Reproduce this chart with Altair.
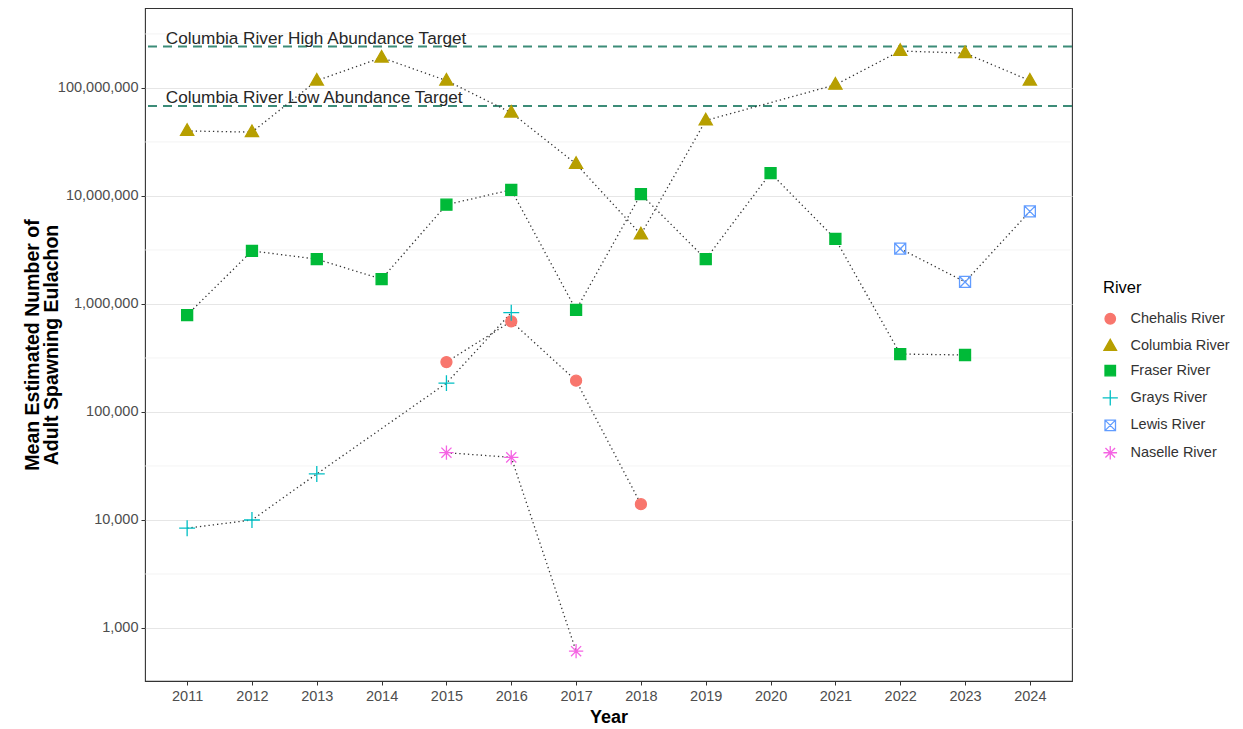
import altair as alt
import pandas as pd

# ---------------- data ----------------
years = list(range(2011, 2025))
rivers = ["Chehalis River", "Columbia River", "Fraser River",
          "Grays River", "Lewis River", "Naselle River"]

chehalis = [None, None, None, None, 2.9e5, 6.9e5, 1.95e5, 1.4e4,
            None, None, None, None, None, None]
columbia = [4.0e7, 3.9e7, 1.17e8, 1.91e8, 1.17e8, 5.9e7, 1.98e7, 4.4e6,
            5.0e7, None, 1.07e8, 2.2e8, 2.1e8, 1.17e8]
fraser = [7.9e5, 3.1e6, 2.6e6, 1.7e6, 8.3e6, 1.14e7, 8.8e5, 1.04e7,
          2.6e6, 1.63e7, 4.0e6, 3.44e5, 3.37e5, None]
grays = [8.4e3, 1.0e4, 2.67e4, None, 1.85e5, 8.3e5, None, None,
         None, None, None, None, None, None]
lewis = [None, None, None, None, None, None, None, None,
         None, None, None, 3.25e6, 1.6e6, 7.2e6]
naselle = [None, None, None, None, 4.2e4, 3.8e4, 6.1e2, None,
           None, None, None, None, None, None]

target_labels = ["Columbia River High Abundance Target",
                 "Columbia River Low Abundance Target"]
target_values = [2.42e8, 6.8e7]

y_ticks = [1e3, 1e4, 1e5, 1e6, 1e7, 1e8]
minor_ticks = [10 ** (k + 0.5) for k in range(3, 9)]

# ---------------- build tables ----------------
series = dict(zip(rivers, [chehalis, columbia, fraser, grays, lewis, naselle]))
rows = []
for r, vals in series.items():
    for yr, v in zip(years, vals):
        if v is not None:
            rows.append({"Year": yr, "River": r, "Count": v})
df = pd.DataFrame(rows)
targets = pd.DataFrame({"label": target_labels, "Count": target_values,
                        "Year": [2010.67, 2010.67]})
minor = pd.DataFrame({"Count": minor_ticks})

# ---------------- styling ----------------
colors = ["#F8766D", "#B79F00", "#00BA38", "#00BFC4", "#619CFF", "#F564E3"]
fills = ["#F8766D", "#B79F00", "#00BA38", "transparent", "transparent", "transparent"]
shapes = [
    "circle",
    "M0,-1.3L1.2,0.8L-1.2,0.8Z",
    "M-1,-1L1,-1L1,1L-1,1Z",
    "M-1.45,0L1.45,0M0,-1.45L0,1.45",
    "M-1,-1L1,-1L1,1L-1,1ZM-1,-1L1,1M-1,1L1,-1",
    "M-1.3,0L1.3,0M0,-1.3L0,1.3M-0.92,-0.92L0.92,0.92M-0.92,0.92L0.92,-0.92",
]

FONT = "Liberation Sans"
YTITLE = ["Mean Estimated Number of", "Adult Spawning Eulachon"]

x_scale = alt.Scale(domain=[2010.35, 2024.65], nice=False, zero=False)
y_scale = alt.Scale(type="log", domain=[323, 5.5e8], nice=False)

x_axis = alt.Axis(values=years, format="d", grid=False, domain=False,
                  tickColor="#333333", tickSize=4, labelFontSize=14.5,
                  labelColor="#4D4D4D", labelPadding=4, titleFontSize=18,
                  titleFontWeight="bold", titleColor="black", titlePadding=6)
y_axis = alt.Axis(values=y_ticks, format=",", grid=True, gridColor="#E6E6E6",
                  gridWidth=1, domain=False, tickColor="#333333", tickSize=4,
                  labelFontSize=14.5, labelColor="#4D4D4D", labelPadding=3,
                  titleFontSize=19.5, titleFontWeight="bold", titleColor="black",
                  titlePadding=-4, titleLineHeight=19)


def X(field):
    return alt.X(f"{field}:Q", scale=x_scale, axis=x_axis, title="Year")


def Y(field):
    return alt.Y(f"{field}:Q", scale=y_scale, axis=y_axis, title=YTITLE)


legend = alt.Legend(orient="none", legendX=958, legendY=272, padding=0,
                    titleFontSize=16.5, titleFontWeight="normal",
                    titleColor="black", titlePadding=15, labelFontSize=14.5,
                    labelColor="#333333", labelOffset=13, rowPadding=8.4,
                    symbolSize=110, symbolStrokeWidth=1.3)

minor_grid = alt.Chart(minor).mark_rule(color="#F0F0F0", strokeWidth=0.8).encode(
    y=Y("Count"))

target_lines = alt.Chart(targets).mark_rule(
    color="#3C8C78", strokeWidth=2, strokeDash=[9, 6]).encode(y=Y("Count"))

target_text = alt.Chart(targets).mark_text(
    align="left", baseline="alphabetic", dy=-3, fontSize=17.2, font=FONT,
    color="#262626").encode(x=X("Year"), y=Y("Count"), text="label:N")

lines = alt.Chart(df).mark_line(
    color="#333333", strokeWidth=1.3, strokeDash=[1.3, 3]).encode(
    x=X("Year"), y=Y("Count"), detail="River:N", order="Year:Q")

points = alt.Chart(df).mark_point(opacity=1, strokeWidth=1.3, size=121).encode(
    x=X("Year"), y=Y("Count"),
    shape=alt.Shape("River:N", scale=alt.Scale(domain=rivers, range=shapes),
                    legend=legend, title="River"),
    fill=alt.Fill("River:N", scale=alt.Scale(domain=rivers, range=fills),
                  legend=legend, title="River"),
    stroke=alt.Stroke("River:N", scale=alt.Scale(domain=rivers, range=colors),
                      legend=legend, title="River"),
)

chart = alt.layer(minor_grid, target_lines, lines, points, target_text).properties(
    width=927, height=673,
    autosize=alt.AutoSizeParams(type="none"),
    padding={"left": 137, "top": 0, "right": 163, "bottom": 50},
    background="white",
).configure(font=FONT).configure_view(stroke="#333333", strokeWidth=1.1)

chart.save("out.html", embed_options={"renderer": "svg", "actions": False})
